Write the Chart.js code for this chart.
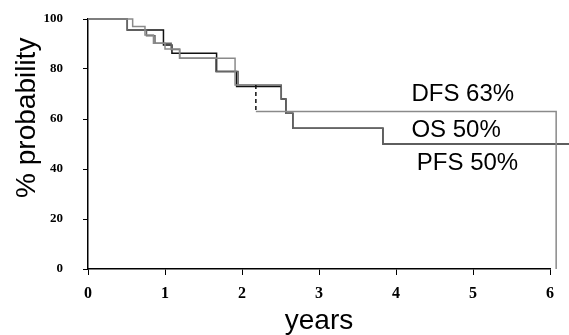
<!DOCTYPE html>
<html lang="en">
<head>
  <meta charset="UTF-8">
  <title>Survival curves</title>
  <script src="https://cdn.jsdelivr.net/npm/chart.js"></script>
  <style>
    body { margin: 0; background: #fff; }
    #chart-container { width: 569px; height: 335px; }
  </style>
</head>
<body>
  <div id="chart-container">
    <canvas id="kmChart" width="569" height="335"></canvas>
  </div>

  <script>
    // time points (years) and % probability for each curve
    const dfsYears = [0, 0.58, 0.74, 0.85, 1.0, 1.19, 1.91, 2.18, 2.18, 6.08, 6.25];
    const dfsProb  = [100, 97, 93.6, 90.3, 88, 84.3, 73.6, 73.6, 63, 0, 0];

    const osYears = [0, 0.51, 0.98, 1.09, 1.67, 1.93, 2.51, 2.57, 2.66, 3.83, 6.25];
    const osProb  = [100, 95.6, 89.6, 86.3, 79, 73, 68, 62.3, 56.3, 50, 50];

    const pfsYears = [0, 0.51, 0.76, 0.87, 1.08, 1.19, 1.66, 1.95, 2.51, 2.57, 2.66, 3.83, 6.25];
    const pfsProb  = [100, 95.6, 93.3, 90.3, 87.8, 84.3, 79, 73.6, 68, 62.3, 56.3, 50, 50];

    const xTicks = [0, 1, 2, 3, 4, 5, 6];
    const yTicks = [0, 20, 40, 60, 80, 100];

    const curveLabels = ['DFS 63%', 'OS 50%', 'PFS 50%'];

    const toPoints = (xs, ys) => xs.map((x, i) => ({ x, y: ys[i] }));
    // the DFS drop drawn dashed is the vertical between the repeated time
    const dashIdx = dfsYears.findIndex((t, i) => i > 0 && t === dfsYears[i - 1]) - 1;

    const textPlugin = {
      id: 'texts',
      afterDraw(chart) {
        const { ctx, scales: { x, y } } = chart;
        ctx.save();
        ctx.fillStyle = '#000';
        ctx.font = '24px "Liberation Sans", Arial, sans-serif';
        ctx.textBaseline = 'alphabetic';
        ctx.fillText(curveLabels[0], x.getPixelForValue(4.2), y.getPixelForValue(67.2));
        ctx.fillText(curveLabels[1], x.getPixelForValue(4.2), y.getPixelForValue(52.8));
        ctx.fillText(curveLabels[2], x.getPixelForValue(4.27), y.getPixelForValue(39.6));

        ctx.translate(27, y.getPixelForValue(60.5));
        ctx.rotate(-Math.PI / 2);
        ctx.textAlign = 'center';
        ctx.textBaseline = 'middle';
        ctx.font = '28px "Liberation Sans", Arial, sans-serif';
        ctx.fillText('% probability', 0, 0);
        ctx.restore();
      }
    };

    const line = (label, pts, color, extra) => Object.assign({
      label,
      data: pts,
      stepped: true,
      borderColor: color,
      borderWidth: 1.5,
      pointRadius: 0,
      fill: false,
      clip: false
    }, extra || {});

    const ctx = document.getElementById('kmChart').getContext('2d');
    new Chart(ctx, {
      type: 'line',
      data: {
        datasets: [
          line('DFS', toPoints(dfsYears, dfsProb), '#8a8a8a', {
            segment: { borderDash: c => c.p0DataIndex === dashIdx ? [4, 3] : undefined,
                       borderColor: c => c.p0DataIndex === dashIdx ? '#111' : undefined }
          }),
          line('PFS', toPoints(pfsYears, pfsProb), '#666'),
          line('OS', toPoints(osYears, osProb), '#111')
        ]
      },
      options: {
        responsive: false,
        animation: false,
        layout: { padding: { top: 19, right: 19, left: 0, bottom: 0 } },
        plugins: { legend: { display: false }, tooltip: { enabled: false } },
        scales: {
          x: {
            type: 'linear',
            min: 0,
            max: 6,
            afterFit: s => { s.height = 66; s.paddingTop = 0; s.paddingBottom = 0; },
            afterBuildTicks: s => { s.ticks = xTicks.map(v => ({ value: v })); },
            grid: { drawOnChartArea: false, tickLength: 6, color: '#000', tickWidth: 1 },
            border: { color: '#000', width: 1.5 },
            ticks: {
              color: '#000',
              padding: 9,
              font: { family: '"Liberation Serif", "Times New Roman", serif', weight: 'bold', size: 16 }
            },
            title: {
              display: true,
              text: 'years',
              color: '#000',
              padding: { top: 0, bottom: -3 },
              font: { family: '"Liberation Sans", Arial, sans-serif', size: 28 }
            }
          },
          y: {
            min: 0,
            max: 100,
            afterFit: s => { s.width = 88; s.paddingTop = 0; s.paddingBottom = 0; },
            afterBuildTicks: s => { s.ticks = yTicks.map(v => ({ value: v })); },
            grid: { drawOnChartArea: false, tickLength: 5, color: '#000', tickWidth: 1 },
            border: { color: '#000', width: 1.5 },
            ticks: {
              color: '#000',
              padding: 20,
              font: { family: '"Liberation Serif", "Times New Roman", serif', weight: 'bold', size: 13 }
            }
          }
        }
      },
      plugins: [textPlugin]
    });
  </script>
</body>
</html>
